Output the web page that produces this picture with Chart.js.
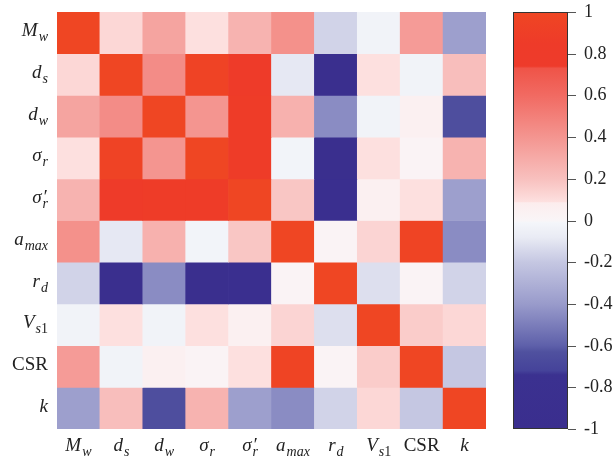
<!DOCTYPE html>
<html>
<head>
<meta charset="utf-8">
<script src="https://cdn.jsdelivr.net/npm/chart.js@4.4.1/dist/chart.umd.min.js"></script>
<style>
  html, body { margin: 0; padding: 0; background: #fff; }
  canvas { display: block; }
</style>
</head>
<body>
<canvas id="heat" width="616" height="460"></canvas>
<script>
// variable names (rows top to bottom, columns left to right)
const varLabels = ["M_w", "d_s", "d_w", "σ_r", "σ'_r", "a_max", "r_d", "V_s1", "CSR", "k"];

// correlation rows
const rowMw   = [1.00, 0.12, 0.33, 0.09, 0.26, 0.42, -0.16, -0.03, 0.37, -0.38];
const rowDs   = [0.12, 1.00, 0.44, 0.96, 0.85, -0.09, -0.95, 0.09, -0.03, 0.21];
const rowDw   = [0.33, 0.44, 1.00, 0.40, 0.87, 0.27, -0.45, -0.03, 0.05, -0.65];
const rowSr   = [0.09, 0.96, 0.40, 1.00, 0.87, -0.02, -0.95, 0.09, 0.02, 0.26];
const rowSrp  = [0.26, 0.85, 0.87, 0.87, 1.00, 0.18, -0.88, 0.05, 0.09, -0.38];
const rowAmax = [0.42, -0.09, 0.27, -0.02, 0.18, 1.00, 0.02, 0.13, 0.97, -0.45];
const rowRd   = [-0.16, -0.95, -0.45, -0.95, -0.88, 0.02, 1.00, -0.12, 0.02, -0.16];
const rowVs1  = [-0.03, 0.09, -0.03, 0.09, 0.05, 0.13, -0.12, 1.00, 0.16, 0.12];
const rowCsr  = [0.37, -0.03, 0.05, 0.02, 0.09, 0.97, 0.02, 0.16, 1.00, -0.20];
const rowK    = [-0.38, 0.21, -0.65, 0.26, -0.38, -0.45, -0.16, 0.12, -0.20, 1.00];
const rows = [rowMw, rowDs, rowDw, rowSr, rowSrp, rowAmax, rowRd, rowVs1, rowCsr, rowK];

// colour bar ticks
const cbTicks = [1, 0.8, 0.6, 0.4, 0.2, 0, -0.2, -0.4, -0.6, -0.8, -1];

// colormap stops
const cmap = [
  [1.00, "#EF4623"], [0.85, "#EE3B29"], [0.74, "#EE3B2B"], [0.73, "#EF5448"],
  [0.60, "#F16A62"], [0.40, "#F49590"], [0.20, "#F8C0BE"], [0.09, "#FDE0DF"],
  [0.085, "#FCEDED"], [0.00, "#F9F5F7"], [-0.01, "#F4F6FA"], [-0.08, "#E9EBF4"],
  [-0.20, "#C5C7E2"], [-0.40, "#999BCB"], [-0.60, "#5E60AA"], [-0.63, "#50519F"],
  [-0.72, "#45439A"], [-0.74, "#3B3190"], [-1.00, "#3A2E8E"]
];

function hexRgb(h) {
  return [parseInt(h.slice(1, 3), 16), parseInt(h.slice(3, 5), 16), parseInt(h.slice(5, 7), 16)];
}

function colorFor(v) {
  for (let i = 0; i < cmap.length - 1; i++) {
    const [v1, c1] = cmap[i], [v2, c2] = cmap[i + 1];
    if (v <= v1 && v >= v2) {
      const t = (v1 - v) / (v1 - v2);
      const a = hexRgb(c1), b = hexRgb(c2);
      const c = a.map((x, k) => Math.round(x + (b[k] - x) * t));
      return `rgb(${c[0]},${c[1]},${c[2]})`;
    }
  }
  return v > 0 ? cmap[0][1] : cmap[cmap.length - 1][1];
}

const SERIF = '"Liberation Serif", "DejaVu Serif", serif';

// draws labels like "M_w", "σ'_r", "V_s1": italic main part plus subscript
function drawRich(ctx, label, x, baseY, align) {
  let [main, sub] = label.split("_");
  let prime = false;
  if (main.endsWith("'")) { prime = true; main = main.slice(0, -1); }
  const upright = main === "CSR";
  const mainFont = (upright ? "" : "italic ") + "19px " + SERIF;
  const subIt = "italic 14px " + SERIF;
  const subUp = "14px " + SERIF;
  ctx.font = mainFont;
  const mw = ctx.measureText(main).width;
  let sw = 0;
  const subParts = [];
  if (sub) {
    for (const ch of sub) {
      const f = /[0-9]/.test(ch) ? subUp : subIt;
      ctx.font = f;
      const w = ctx.measureText(ch).width;
      subParts.push([ch, f, w]);
      sw += w;
    }
  }
  let pw = 0;
  if (prime) { ctx.font = mainFont; pw = ctx.measureText("′").width; }
  const total = mw + Math.max(sw, pw) + (sub ? 1 : 0);
  const x0 = align === "right" ? x - total : x - total / 2;
  ctx.textAlign = "left";
  ctx.textBaseline = "alphabetic";
  ctx.fillStyle = "#222";
  ctx.font = mainFont;
  ctx.fillText(main, x0, baseY);
  let xs = x0 + mw + 1;
  if (prime) {
    ctx.fillText("′", xs, baseY);
  }
  for (const [ch, f, w] of subParts) {
    ctx.font = f;
    ctx.fillText(ch, xs, baseY + 5);
    xs += w;
  }
}

const heatDecor = {
  id: "heatDecor",
  afterDraw(chart) {
    const { ctx, chartArea, scales: { x, y } } = chart;
    ctx.save();
    // axis labels
    varLabels.forEach((lab, i) => {
      drawRich(ctx, lab, chartArea.left - 9, y.getPixelForValue(i + 0.5) + 3.5, "right");
      drawRich(ctx, lab, x.getPixelForValue(i), chartArea.bottom + 22, "center");
    });
    // colour bar
    const cbL = 513, cbR = 568, cbT = chartArea.top, cbB = chartArea.bottom;
    const cbY = v => cbT + (1 - v) / 2 * (cbB - cbT);
    const grad = ctx.createLinearGradient(0, cbT, 0, cbB);
    cmap.forEach(([v, c]) => grad.addColorStop((1 - v) / 2, c));
    ctx.fillStyle = grad;
    ctx.fillRect(cbL, cbT, cbR - cbL, cbB - cbT);
    ctx.strokeStyle = "#333";
    ctx.lineWidth = 1;
    ctx.strokeRect(cbL + 0.5, cbT + 0.5, cbR - cbL - 1, cbB - cbT - 1);
    ctx.strokeStyle = "#555";
    ctx.font = "18px " + SERIF;
    ctx.fillStyle = "#222";
    ctx.textAlign = "left";
    ctx.textBaseline = "middle";
    cbTicks.forEach(v => {
      const py = Math.round(cbY(v)) + 0.5;
      ctx.beginPath();
      ctx.moveTo(cbR, py);
      ctx.lineTo(cbR + 8, py);
      ctx.stroke();
      ctx.fillText(String(v), 584, py);
    });
    ctx.restore();
  }
};

const datasets = rows.map((r, i) => ({
  label: varLabels[i],
  data: r.map(() => [i, i + 1]),
  backgroundColor: r.map(colorFor),
  borderWidth: 0,
  barPercentage: 1,
  categoryPercentage: 1,
  grouped: false
}));

new Chart(document.getElementById("heat"), {
  type: "bar",
  data: { labels: varLabels, datasets: datasets },
  options: {
    responsive: false,
    animation: false,
    layout: { padding: { left: 57, top: 12, right: 130, bottom: 31 } },
    plugins: { legend: { display: false }, tooltip: { enabled: false } },
    scales: {
      x: { type: "category", offset: true, display: false, grid: { display: false } },
      y: { type: "linear", min: 0, max: 10, reverse: true, display: false, grid: { display: false } }
    }
  },
  plugins: [heatDecor]
});
</script>
</body>
</html>
